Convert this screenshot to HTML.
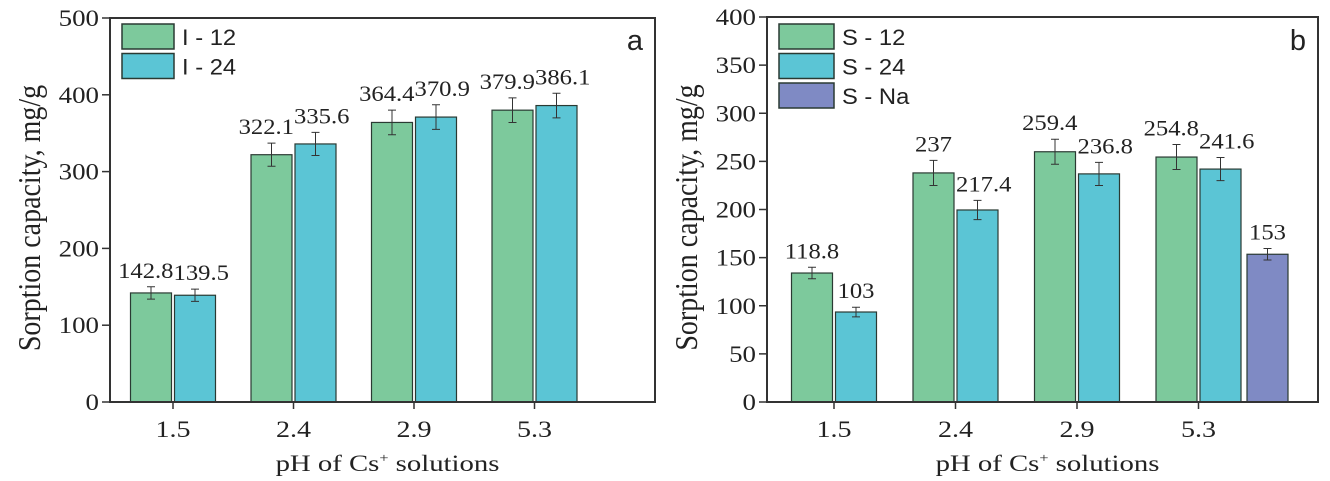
<!DOCTYPE html>
<html><head><meta charset="utf-8"><style>
body{margin:0;background:#fff;}
svg{display:block;}
text{font-family:"Liberation Serif",serif;fill:#222;}
.sans{font-family:"Liberation Sans",sans-serif;}
</style></head><body>
<svg id="c" width="1330" height="481"></svg>
<script>
const categories = ["1.5","2.4","2.9","5.3"];
const aSeries = ["I - 12","I - 24"];
const aValues12 = [142, 322, 364, 380];
const aValues24 = [139, 336, 371, 386];
const aLabels12 = ["142.8","322.1","364.4","379.9"];
const aLabels24 = ["139.5","335.6","370.9","386.1"];
const aErr = [8, 15, 16, 16];
const aTicks = [0,100,200,300,400,500];
const bSeries = ["S - 12","S - 24","S - Na"];
const bValues12 = [134, 238, 260, 254.5];
const bValues24 = [93.5, 199.5, 237, 242];
const bValuesNa = [153.5];
const bLabels12 = ["118.8","237","259.4","254.8"];
const bLabels24 = ["103","217.4","236.8","241.6"];
const bLabelsNa = ["153"];
const bErr12 = [6, 13, 13, 13];
const bErr24 = [5, 10, 12, 12];
const bErrNa = [6];
const bTicks = [0,50,100,150,200,250,300,350,400];
// label alignment relative to bar (e=end at right edge, s=start at left edge, m=centered)
const aAlign12=['e','e','e','e'], aAlign24=['s','s','s','s'];
const bAlign12=['m','m','e','e'], bAlign24=['m','s','s','s'], bAlignNa=['m'];

const NS="http://www.w3.org/2000/svg";
const svg=document.getElementById('c');
function mk(tag,attrs,parent){const e=document.createElementNS(NS,tag);for(const k in attrs)e.setAttribute(k,attrs[k]);(parent||svg).appendChild(e);return e;}
function txt(parent,x,y,size,sx,anchor,cls){
  const a={x:0,y:0,'font-size':size,'text-anchor':anchor,transform:`translate(${x},${y}) scale(${sx},1)`};
  if(cls)a['class']=cls;
  return mk('text',a,parent);
}
const colors=["#7dc99c","#5bc5d5","#7f8ac4"];

function panel(o){
  const g=mk('g',{});
  
  
  const y=v=>o.y0-(v/o.ymax)*(o.y0-o.y1);
  const xc=i=>o.xc0+i*o.step;
  o.series.forEach((s,si)=>{
    s.vals.forEach((v,i)=>{
      const left = si===0? xc(i)-o.bw-1.5 : si===1? xc(i)+1.5 : xc(i+s.offset)+1.5+o.bw+6;
      const r=mk('rect',{x:left,y:y(v),width:o.bw,height:o.y0-y(v),fill:colors[si],stroke:'#2a3a33','stroke-width':1.2},g);
      
      
      const cx=left+o.bw/2, e=s.err[i];
      const eb=mk('path',{d:`M${cx} ${y(v+e)}V${y(v-e)}M${cx-4} ${y(v+e)}H${cx+4}M${cx-4} ${y(v-e)}H${cx+4}`,stroke:'#333','stroke-width':1,fill:'none'},g);
      
      
      const al=s.align[i];
      const lx= al==='e'? left+o.bw+2 : al==='s'? left-1 : cx;
      const t=txt(g,lx,y(v+e)-9,22,1.12,al==='e'?'end':al==='s'?'start':'middle');
      t.textContent=s.labels[i];
      
      
    });
  });
  const box=mk('rect',{x:o.x0,y:o.y1,width:o.x1-o.x0,height:o.y0-o.y1,fill:'none',stroke:'#333','stroke-width':2},g);
  
  
  o.ticks.forEach(t=>{
    mk('line',{x1:o.x0-8,x2:o.x0,y1:y(t),y2:y(t),stroke:'#333','stroke-width':1.5},g);
    const tx=txt(g,o.x0-11,y(t)+8,23,1.17,'end');
    tx.textContent=t;
    
    
  });
  categories.forEach((c,i)=>{
    mk('line',{x1:xc(i),x2:xc(i),y1:o.y0,y2:o.y0+7,stroke:'#333','stroke-width':1.5},g);
    const tx=txt(g,xc(i),o.y0+35,23,1.22,'middle');
    tx.textContent=c;
    
    
  });
  const yt=mk('text',{x:0,y:0,'font-size':28,'text-anchor':'middle',transform:`translate(${o.ytx},${(o.y0+o.y1)/2+8}) rotate(-90) scale(1,1.15)`},g);
  yt.textContent='Sorption capacity, mg/g';
  
  
  const xt=txt(g,(o.x0+o.x1)/2+5,471,23,1.25,'middle');
  xt.innerHTML='pH of Cs<tspan dy="-9" font-size="13">+</tspan><tspan dy="9"> solutions</tspan>';
  
  
  o.series.forEach((s,si)=>{
    const ly=24+si*29.5;
    const sw=mk('rect',{x:o.x0+12,y:ly,width:o.lw,height:25,fill:colors[si],stroke:'#2a3a33','stroke-width':1.5},g);
    
    
    const lt=txt(g,o.x0+o.lw+20,ly+21,22,1.08,'start','sans');
    lt.textContent=s.name;
    
    
  });
  const pl=mk('text',{x:o.x1-12,y:50,'font-size':29,'text-anchor':'end',class:'sans'},g);
  pl.textContent=o.letter;
  
  
}
panel({name:'chart-a',x0:110,x1:655,y0:402,y1:18,ymax:500,xc0:173,step:120.5,bw:41,ticks:aTicks,ytx:40,lw:52,letter:'a',
  series:[{key:'i12',name:aSeries[0],vals:aValues12,labels:aLabels12,err:aErr,align:aAlign12},
          {key:'i24',name:aSeries[1],vals:aValues24,labels:aLabels24,err:aErr,align:aAlign24}]});
panel({name:'chart-b',x0:767,x1:1318,y0:402,y1:17,ymax:400,xc0:834,step:121.5,bw:41,ticks:bTicks,ytx:697,lw:55,letter:'b',
  series:[{key:'s12',name:bSeries[0],vals:bValues12,labels:bLabels12,err:bErr12,align:bAlign12},
          {key:'s24',name:bSeries[1],vals:bValues24,labels:bLabels24,err:bErr24,align:bAlign24},
          {key:'sna',name:bSeries[2],vals:bValuesNa,labels:bLabelsNa,err:bErrNa,offset:3,align:bAlignNa}]});
</script>
</body></html>
